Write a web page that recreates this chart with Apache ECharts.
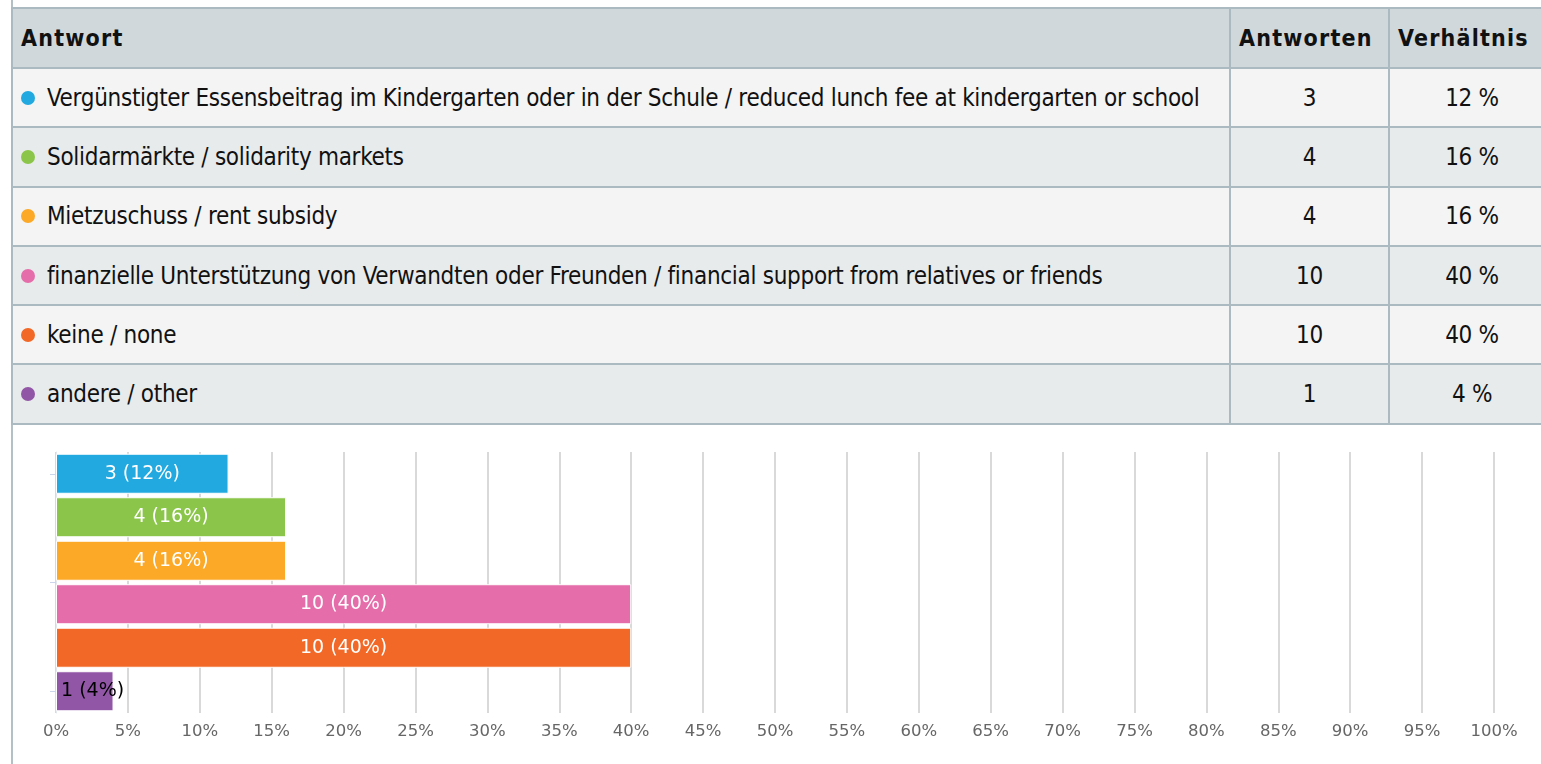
<!DOCTYPE html>
<html>
<head>
<meta charset="utf-8">
<script src="https://cdn.jsdelivr.net/npm/echarts@6/dist/echarts.min.js"></script>
<style>
html, body { margin: 0; padding: 0; background: #fff; overflow: hidden; width: 1541px; height: 764px; }
.wrap { position: absolute; left: 11px; top: 0; width: 1560px; height: 764px; border-left: 2px solid #b3c0c6; }
table { position: absolute; top: 7px; left: 11px; border-collapse: collapse; table-layout: fixed; width: 1543px;
  font-family: "Liberation Sans Narrow", "DejaVu Sans Condensed", "Noto Sans", sans-serif; font-size: 24px; color: #111; letter-spacing: -0.3px; }
th, td { border: 2px solid #abbac1; height: 57.3px; padding: 0 8px; white-space: nowrap; }
th { background: #d0d8dc; text-align: left; font-weight: bold; letter-spacing: 1.2px; font-size: 23px; height: 58px; }
tr.odd td { background: #f4f4f4; }
tr.even td { background: #e8ebec; }
td.num { text-align: center; }
.dot { display: inline-block; width: 14px; height: 14px; border-radius: 50%; margin: 0 12px 0 0; vertical-align: 1px; }
#chart { position: absolute; left: 13px; top: 425px; width: 1528px; height: 339px; }
</style>
</head>
<body>
<div class="wrap"></div>
<table id="tbl">
  <colgroup><col style="width:1218px"><col style="width:159px"><col style="width:166px"></colgroup>
</table>
<div id="chart"></div>
<script>
var headers = ["Antwort", "Antworten", "Verhältnis"];
var answers = [
  "Vergünstigter Essensbeitrag im Kindergarten oder in der Schule / reduced lunch fee at kindergarten or school",
  "Solidarmärkte / solidarity markets",
  "Mietzuschuss / rent subsidy",
  "finanzielle Unterstützung von Verwandten oder Freunden / financial support from relatives or friends",
  "keine / none",
  "andere / other"
];
var counts = [3, 4, 4, 10, 10, 1];
var percents = [12, 16, 16, 40, 40, 4];
var colors = ["#21a9e0", "#8bc64a", "#fba927", "#e56eaa", "#f26826", "#9156a5"];

// table
var tbl = document.getElementById("tbl");
var head = "<tr>";
headers.forEach(function (h) { head += "<th>" + h + "</th>"; });
tbl.insertAdjacentHTML("beforeend", head + "</tr>");
answers.forEach(function (a, i) {
  var row = '<tr class="' + (i % 2 ? "even" : "odd") + '">' +
    '<td><span class="dot" style="background:' + colors[i] + '"></span>' + a + "</td>" +
    '<td class="num">' + counts[i] + "</td>" +
    '<td class="num">' + percents[i] + " %</td></tr>";
  tbl.insertAdjacentHTML("beforeend", row);
});

// chart
var chart = echarts.init(document.getElementById("chart"));
var barData = percents.map(function (p, i) {
  var item = { value: p, itemStyle: { color: colors[i] } };
  if (p < 8) {
    item.label = { position: "insideLeft", color: "#000" };
  }
  return item;
});
var option = {
  animation: false,
  textStyle: { fontFamily: "DejaVu Sans" },
  grid: { left: 43, right: 47, top: 27, bottom: 51 },
  xAxis: {
    type: "value",
    min: 0,
    max: 100,
    interval: 5,
    axisLine: { show: false },
    axisTick: { show: false },
    axisLabel: { color: "#666", fontSize: 16.5, margin: 10, formatter: "{value}%" },
    splitLine: { lineStyle: { color: "#ccc", width: 1.5 } }
  },
  yAxis: [
    {
      type: "category",
      inverse: true,
      data: answers,
      axisLabel: { show: false },
      axisTick: { show: false },
      axisLine: { lineStyle: { color: "#e3e8ef" } }
    },
    {
      type: "value",
      inverse: true,
      min: 0,
      max: 6,
      position: "left",
      axisLabel: { show: false },
      splitLine: { show: false },
      axisLine: { show: false },
      axisTick: { show: true, length: 6, customValues: [0.5, 3, 5.5], lineStyle: { color: "#ccd6eb" } }
    }
  ],
  series: [
    {
      type: "bar",
      data: barData,
      barCategoryGap: "8%",
      itemStyle: { borderColor: "#fff", borderWidth: 1 },
      label: {
        show: true,
        position: "inside",
        color: "#fff",
        fontSize: 19,
        formatter: function (p) { return counts[p.dataIndex] + " (" + percents[p.dataIndex] + "%)"; }
      }
    }
  ]
};
chart.setOption(option);
</script>
</body>
</html>
